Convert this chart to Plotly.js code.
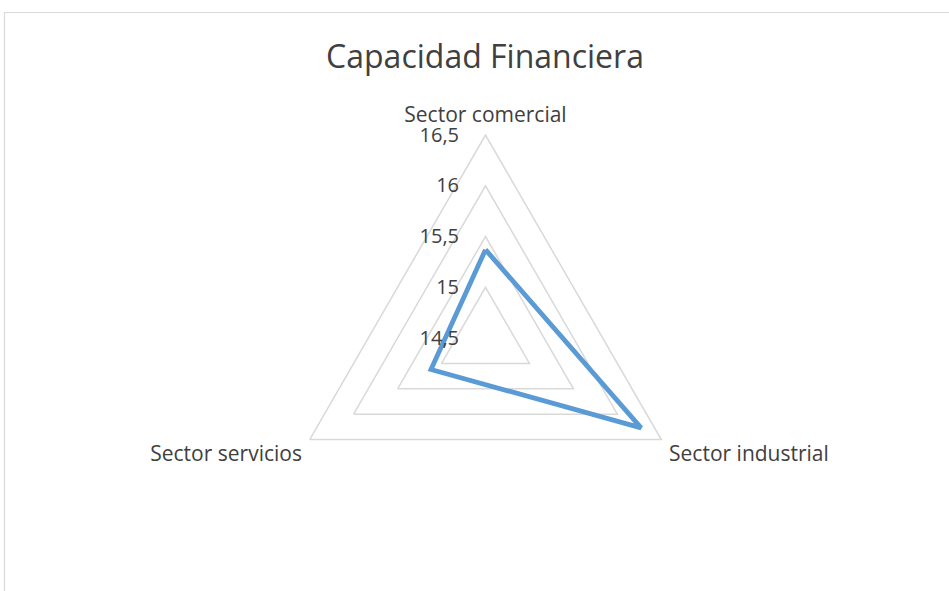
<!DOCTYPE html>
<html>
<head>
<meta charset="utf-8">
<script src="https://cdn.plot.ly/plotly-3.0.1.min.js"></script>
<style>
  html, body { margin: 0; padding: 0; background: #fff; }
  #chart { width: 949px; height: 591px; }
</style>
</head>
<body>
<div id="chart"></div>
<script>
  // categories and values
  var sectors = ["Sector comercial", "Sector industrial", "Sector servicios"];
  var capacidad = [15.37, 16.27, 15.12];
  var radialTicks = [14.5, 15, 15.5, 16, 16.5];
  var radialTickText = ["14,5", "15", "15,5", "16", "16,5"];

  var fontFamily = "'Open Sans', 'Noto Sans', sans-serif";
  var textColor = "#404040";
  var gridColor = "#d9d9d9";

  // close the polygon by repeating the first point
  var trace = {
    type: "scatterpolar",
    r: capacidad.concat([capacidad[0]]),
    theta: sectors.concat([sectors[0]]),
    mode: "lines",
    line: { color: "#5b9bd5", width: 4.8 },
    hoverinfo: "skip",
    showlegend: false
  };

  var W = 949, H = 591;
  var cx = 485.5, cy = 338, rad = 203;

  var layout = {
    width: W,
    height: H,
    margin: { l: 0, r: 0, t: 0, b: 0 },
    paper_bgcolor: "#fff",
    separators: ",.",
    font: { family: fontFamily, color: textColor, size: 21 },
    title: {
      text: "Capacidad Financiera",
      font: { family: fontFamily, size: 32, color: textColor },
      x: 485 / W,
      xanchor: "center",
      y: 1 - 57 / H,
      yanchor: "middle"
    },
    polar: {
      domain: {
        x: [(cx - rad) / W, (cx + rad) / W],
        y: [1 - (cy + rad) / H, 1 - (cy - rad) / H]
      },
      bgcolor: "rgba(0,0,0,0)",
      gridshape: "linear",
      radialaxis: {
        range: [14.5, 16.5],
        tickvals: radialTicks,
        ticktext: radialTickText,
        angle: 90,
        tickangle: 90,
        side: "counterclockwise",
        showline: false,
        showgrid: true,
        gridcolor: gridColor,
        gridwidth: 1.5,
        ticks: "outside",
        ticklen: 19,
        tickcolor: "rgba(0,0,0,0)",
        tickfont: { size: 20, color: textColor }
      },
      angularaxis: {
        rotation: 90,
        direction: "clockwise",
        showgrid: false,
        showline: true,
        linecolor: gridColor,
        linewidth: 1.5,
        ticks: "outside",
        ticklen: 4,
        tickcolor: "rgba(0,0,0,0)",
        tickfont: { size: 21, color: textColor }
      }
    },
    shapes: [{
      type: "rect",
      xref: "paper", yref: "paper",
      x0: 4.5 / W, x1: 1.2,
      y0: -0.2, y1: 1 - 12.5 / H,
      line: { color: gridColor, width: 1.2 },
      fillcolor: "rgba(0,0,0,0)",
      layer: "below"
    }]
  };

  Plotly.newPlot("chart", [trace], layout, { displayModeBar: false, staticPlot: true });
</script>
</body>
</html>
